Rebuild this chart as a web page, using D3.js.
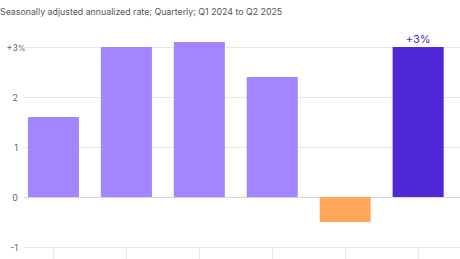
<!DOCTYPE html>
<html><head><meta charset="utf-8">
<script src="https://cdn.jsdelivr.net/npm/d3@7"></script>
<style>body{margin:0;background:#fff}svg{display:block;font-family:Inter,"Noto Sans",sans-serif}</style>
</head><body><svg id="c" width="460" height="259"></svg>
<script>
const quarters = ["Q1 2024","Q2 2024","Q3 2024","Q4 2024","Q1 2025","Q2 2025"];
const values = [1.6, 3.0, 3.1, 2.4, -0.5, 3.0];
const yTicks = [-1, 0, 1, 2, 3];
const yTickLabels = ["-1", "0", "1", "2", "+3"];
const title = "Seasonally adjusted annualized rate; Quarterly; Q1 2024 to Q2 2025";
const lastLabel = "+3%";

const svg = d3.select("#c");
const y = d3.scaleLinear().domain([-1, 3]).range([247, 47]);
const x = d3.scaleBand().domain(quarters).range([17, 454.6]).paddingInner(0.3).paddingOuter(0.15);

svg.append("text").attr("x", 0).attr("y", 14.5).attr("font-size", 8.8).attr("fill", "#555").text(title);

// gridlines
svg.append("g").selectAll("line").data(yTicks).join("line")
  .attr("x1", 24).attr("x2", 460)
  .attr("y1", d => y(d) + 0.5).attr("y2", d => y(d) + 0.5)
  .attr("stroke", d => d === 0 ? "#d6d6d6" : "#e8e8e8").attr("stroke-width", 1);

// y labels
svg.append("g").selectAll("text").data(yTicks).join("text")
  .attr("x", 18).attr("y", d => y(d) + 3.5).attr("text-anchor", "end")
  .attr("font-size", 9).attr("fill", "#666").text((d, i) => yTickLabels[i]);
svg.append("text").attr("x", 18).attr("y", y(3) + 3.5).attr("font-size", 7.5).attr("fill", "#666").text("%");

// bottom ticks
svg.append("g").selectAll("line").data(quarters).join("line")
  .attr("x1", d => Math.round(x(d) + x.bandwidth() / 2) + 0.5)
  .attr("x2", d => Math.round(x(d) + x.bandwidth() / 2) + 0.5)
  .attr("y1", y(-1)).attr("y2", 259).attr("stroke", "#e8e8e8");

// bars
svg.append("g").selectAll("rect").data(values).join("rect")
  .attr("x", (d, i) => x(quarters[i]))
  .attr("width", x.bandwidth())
  .attr("y", d => y(Math.max(0, d)))
  .attr("height", d => Math.abs(y(d) - y(0)))
  .attr("fill", (d, i) => i === values.length - 1 ? "#5026d9" : (d < 0 ? "#ffa85a" : "#a385ff"));

const li = values.length - 1;
svg.append("text").attr("x", x(quarters[li]) + x.bandwidth() / 2).attr("y", y(values[li]) - 4)
  .attr("text-anchor", "middle").attr("font-size", 11).attr("fill", "#5026d9").text(lastLabel);
</script></body></html>
